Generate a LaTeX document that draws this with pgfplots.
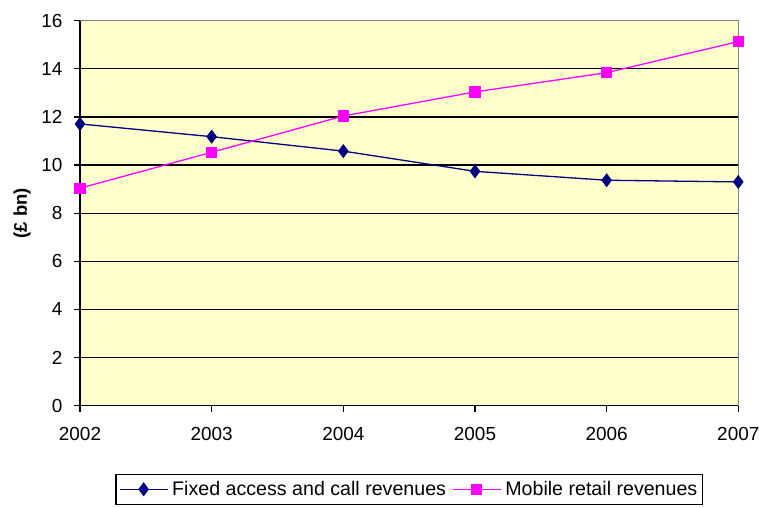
\documentclass[border=0pt]{standalone}
\usepackage{pgfplots}
\pgfplotsset{compat=1.18}
\usepackage{fontspec}
\setmainfont{Liberation Sans}
\definecolor{bgyellow}{HTML}{FFFFCC}
\definecolor{navy}{HTML}{000080}
\definecolor{magenta2}{HTML}{FF00FF}
\begin{document}
\begin{tikzpicture}
\begin{axis}[
  scale only axis,
  width=658.3bp, height=385bp,
  xmin=2002, xmax=2007, ymin=0, ymax=16,
  xtick={2002,2003,2004,2005,2006,2007},
  ytick={0,2,4,6,8,10,12,14,16},
  /pgf/number format/assume math mode=true,
  /pgf/number format/1000 sep={},
  tick label style={font=\fontsize{19}{22}\selectfont, black},
  x tick label style={yshift=-12bp},
  y tick label style={xshift=-8bp},
  axis x line*=bottom, axis y line*=left,
  axis line style={black, line width=1.3bp, -},
  tick align=outside, major tick length=6bp,
  tick style={black, line width=1.3bp},
  ymajorgrids, grid style={black, line width=1.3bp},
  axis background/.style={fill=bgyellow},
  ylabel={\textbf{(£ bn)}},
  ylabel style={font=\fontsize{18.5}{21}\selectfont, yshift=4bp},
  legend columns=2,
  legend style={at={(0.5,-0.177)}, anchor=north, draw=black, line width=1.2bp,
    font=\fontsize{19.7}{23}\selectfont, inner xsep=3bp, inner ysep=5bp,
    /tikz/every odd column/.append style={column sep=2bp},
    /tikz/every even column/.append style={column sep=4bp}},
  legend image code/.code={\draw[mark repeat=2,mark phase=2,#1] plot coordinates {(0bp,0bp) (24bp,0bp) (48bp,0bp)};},
  clip=false,
]
\coordinate (O) at (rel axis cs:0,0);
\addplot[navy, line width=1.3bp, mark=diamond*, mark size=6bp, mark options={fill=navy, draw=navy}]
  coordinates {(2002,11.71) (2003,11.18) (2004,10.58) (2005,9.74) (2006,9.37) (2007,9.30)};
\addlegendentry{Fixed access and call revenues}
\addplot[magenta2, line width=1.3bp, mark=square*, mark size=5bp, mark options={fill=magenta2, draw=magenta2}]
  coordinates {(2002,9.04) (2003,10.53) (2004,12.04) (2005,13.04) (2006,13.84) (2007,15.13)};
\addlegendentry{Mobile retail revenues\hspace{7bp}}
\draw[gray, line width=1.5bp] (rel axis cs:0,1) -- (rel axis cs:1,1) -- (rel axis cs:1,0);
\end{axis}
\pgfresetboundingbox
\path[use as bounding box] ([shift={(-80bp,-102.3bp)}]O) rectangle ([shift={(679bp,405.7bp)}]O);
\end{tikzpicture}
\end{document}
